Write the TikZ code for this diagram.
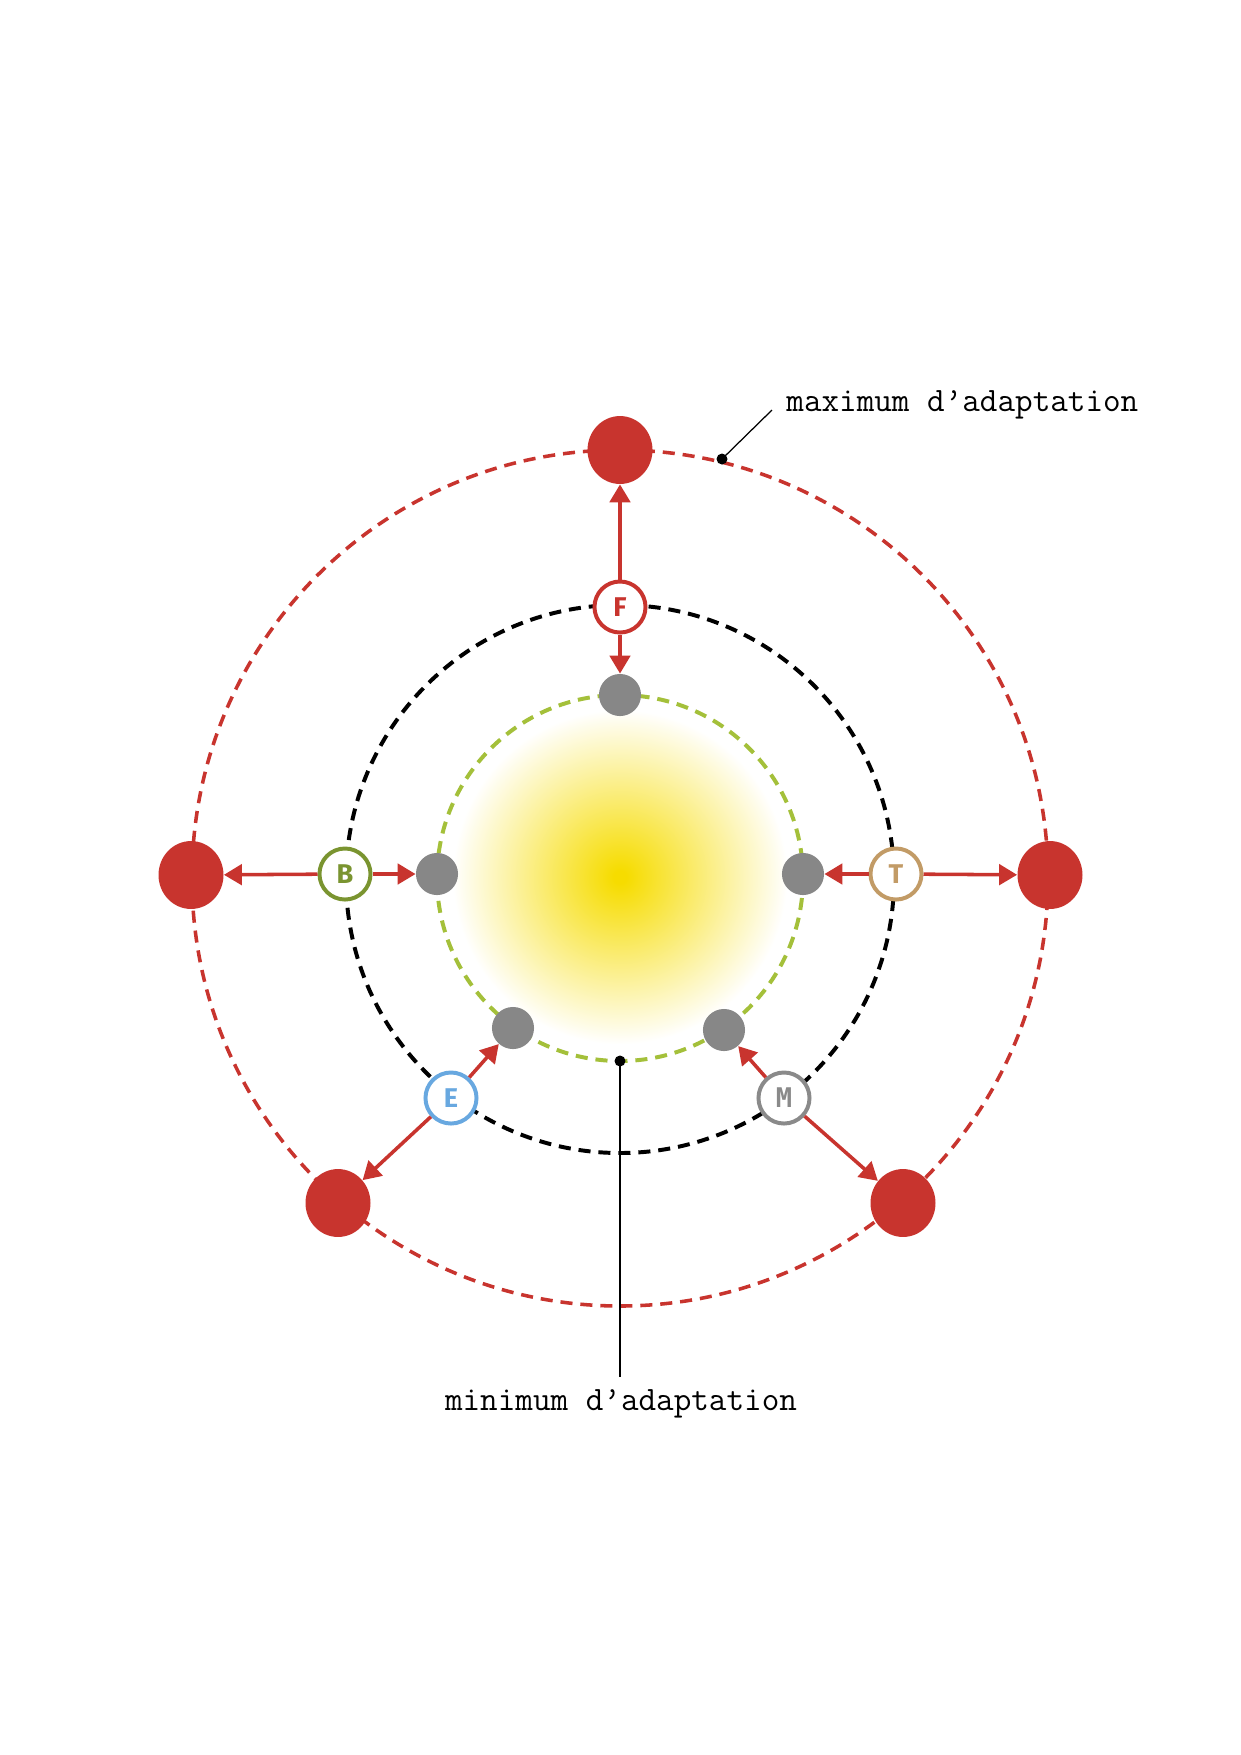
\documentclass[tikz,border=0pt]{standalone}
\usepackage{fontspec}
\newfontfamily\lettf{Fira Sans}
\newfontfamily\monof{DejaVu Sans Mono}
\usetikzlibrary{shapes.geometric,arrows.meta}
\definecolor{cred}{HTML}{C8342E}
\definecolor{cgray}{HTML}{878787}
\definecolor{cgreen}{HTML}{A4C03A}
\definecolor{colive}{HTML}{7A9430}
\definecolor{ctan}{HTML}{C29B66}
\definecolor{cblue}{HTML}{68A8E0}
\definecolor{cmgray}{HTML}{8A8A8A}
\definecolor{sunY}{HTML}{F6DC00}
\pgfdeclareradialshading{sunshade}{\pgfpoint{0bp}{0bp}}{color(0bp)=(sunY); color(3bp)=(sunY); color(40bp)=(sunY!52!white); color(80bp)=(white); color(90bp)=(white)}
\tikzset{
  rednode/.style={ellipse, fill=cred, minimum width=31.2pt, minimum height=32.6pt, inner sep=0pt},
  graynode/.style={circle, fill=cgray, minimum size=20.2pt, inner sep=0pt},
  lettnode/.style={circle, draw=#1, fill=white, line width=1.9pt, minimum size=24.5pt, inner sep=0pt, text=#1, font=\lettf\bfseries\fontsize{13}{13}\selectfont},
  arr/.style={draw=cred, line width=1.7pt, -{Triangle[length=8.6pt,width=9.8pt]}},
  orbit/.style={dash pattern=on 5.8pt off 3.8pt, line width=1.9pt},
  lbl/.style={font=\ttfamily\fontsize{16.4}{19}\selectfont, inner sep=0pt}
}
\begin{document}
\begin{tikzpicture}[x=0.48pt, y=-0.48pt]
\useasboundingbox (0,0) rectangle (1241,1755);
% sun
\node[inner sep=0pt] (sun) at (620,877) {\pgfuseshading{sunshade}};
% orbits
\draw[orbit, draw=cred, line width=1.7pt] (620,878) circle[radius=428];
\draw[orbit, draw=black] (620,879) circle[radius=274];
\draw[orbit, draw=cgreen] (620,878) circle[radius=183];
% red outer nodes
\node[rednode] (rT) at (620,450) {};
\node[rednode] (rL) at (191,875) {};
\node[rednode] (rR) at (1050,875) {};
\node[rednode] (rLL) at (338,1203) {};
\node[rednode] (rLR) at (903,1203) {};
% gray inner nodes
\node[graynode] (gT) at (620,695) {};
\node[graynode] (gL) at (437,874) {};
\node[graynode] (gR) at (803,874) {};
\node[graynode] (gLL) at (513,1028) {};
\node[graynode] (gLR) at (724,1030) {};
% letter nodes
\node[lettnode=cred] (F) at (620,607) {F};
\node[lettnode=colive] (B) at (345,874) {B};
\node[lettnode=ctan] (T) at (896,874) {T};
\node[lettnode=cblue] (E) at (451,1098) {E};
\node[lettnode=cmgray, font=\monof\bfseries\fontsize{13}{13}\selectfont] (M) at (784,1098) {M};
% arrows
\draw[arr] (F) -- (rT);
\draw[arr] (F) -- (gT);
\draw[arr] (B) -- (rL);
\draw[arr] (B) -- (gL);
\draw[arr] (T) -- (gR);
\draw[arr] (T) -- (rR);
\draw[arr] (E) -- (rLL);
\draw[arr] (E) -- (gLL);
\draw[arr] (M) -- (rLR);
\draw[arr] (M) -- (gLR);
% maximum label
\coordinate (maxdot) at (722,459);
\coordinate (maxend) at (772,410);
\fill[black] (maxdot) circle[radius=5.5];
\draw[line width=0.6pt] (maxdot) -- (maxend);
\node[lbl, anchor=base west] (maxlbl) at (786,411) {maximum d’adaptation};
% minimum label
\coordinate (mindot) at (620,1061);
\coordinate (minend) at (620,1377);
\fill[black] (mindot) circle[radius=5.5];
\draw[line width=0.6pt] (mindot) -- (minend);
\node[lbl, anchor=base] (minlbl) at (621,1410) {minimum d’adaptation};
\end{tikzpicture}
\end{document}
